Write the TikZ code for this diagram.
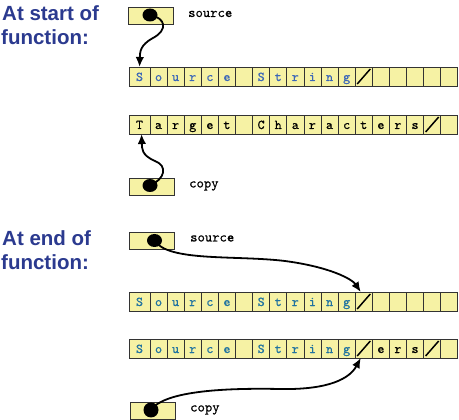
\documentclass[tikz,border=0pt]{standalone}
\usepackage{fontspec}
\setmainfont{Liberation Sans}
\newfontfamily\courfont[FakeBold=0.5]{lmmono10-regular.otf}
\usetikzlibrary{arrows.meta,shapes.geometric}
\definecolor{cellfill}{HTML}{F6F2A4}
\definecolor{cellline}{HTML}{333333}
\definecolor{headblue}{HTML}{2B3A8F}
\definecolor{srcblue}{HTML}{3A66B8}
\definecolor{srcteal}{HTML}{1F72A0}
\tikzset{
  cellbox/.style={draw=cellline, fill=cellfill, line width=0.8pt, inner sep=0pt, outer sep=0pt,
    minimum height=19pt, text height=9pt, text depth=0pt, font=\courfont\fontsize{13.5}{13.5}\selectfont},
  ptrbox/.style={draw=cellline, fill=cellfill, line width=0.8pt, inner sep=0pt, outer sep=0pt,
    minimum width=45pt, minimum height=17pt},
  ptrdot/.style={ellipse, fill=black, inner sep=0pt, minimum width=15pt, minimum height=13pt},
  ptrlabel/.style={anchor=base west, inner sep=0pt, font=\courfont\fontsize{14}{14}\selectfont},
  heading/.style={anchor=base west, inner sep=0pt, text=headblue, font=\bfseries\fontsize{20.5}{20.5}\selectfont},
  ptrarrow/.style={line width=1.8pt, -{Latex[length=10pt,width=8.5pt]}},
  slashline/.style={line width=1.5pt},
}
\newcommand\cellrow[4]{%
  \foreach \ch [count=\i from 0] in {#4} {%
    \ifnum\i=0
      \node[cellbox, minimum width=21pt, text=#3] (#1c\i) at (139.5,#2+9.5) {\ch};
    \else
      \pgfmathsetmacro\cx{150+(\i-1)*17.1+8.55}
      \node[cellbox, minimum width=17.1pt, text=#3] (#1c\i) at (\cx,#2+9.5) {\ch};
    \fi
  }%
}
\newcommand\slashcell[1]{%
  \draw[slashline] ([xshift=2pt,yshift=2pt]#1.south west) -- ([xshift=-2pt,yshift=-2pt]#1.north east);}
\begin{document}
\begin{tikzpicture}[x=1pt,y=-1pt]
\useasboundingbox (0,0) rectangle (459,420);
% headings
\node[heading] (h1a) at (2,20.5) {At start of};
\node[heading] (h1b) at (1,45) {function:};
\node[heading] (h2a) at (2,245.5) {At end of};
\node[heading] (h2b) at (1,270) {function:};
% arrays
\cellrow{ra}{67}{srcblue}{S,o,u,r,c,e,{},S,t,r,i,n,g,{},{},{},{},{},{}}
\cellrow{rb}{115}{black}{T,a,r,g,e,t,{},C,h,a,r,a,c,t,e,r,s,{},{}}
\cellrow{rc}{292}{srcteal}{S,o,u,r,c,e,{},S,t,r,i,n,g,{},{},{},{},{},{}}
\cellrow{rd}{339}{srcteal}{S,o,u,r,c,e,{},S,t,r,i,n,g,{},{\textcolor{black}{e}},{\textcolor{black}{r}},{\textcolor{black}{s}},{},{}}
\slashcell{rac13}
\slashcell{rbc17}
\slashcell{rcc13}
\slashcell{rdc13}
\slashcell{rdc17}
% pointer boxes
\node[ptrbox] (b1) at (151,16) {};
\node[ptrbox] (b2) at (151.5,186.5) {};
\node[ptrbox] (b3) at (151.5,240.5) {};
\node[ptrbox] (b4) at (153,410.5) {};
\node[ptrlabel] (l1) at (188,17) {source};
\node[ptrlabel] (l2) at (189,187.5) {copy};
\node[ptrlabel] (l3) at (190,241.5) {source};
\node[ptrlabel] (l4) at (190,411.5) {copy};
\node[ptrdot] (d1) at (150,15) {};
\node[ptrdot] (d2) at (150,185.5) {};
\node[ptrdot] (d3) at (154.5,240.5) {};
\node[ptrdot, minimum height=15pt] (d4) at (151,410) {};
\coordinate (t3) at ([xshift=-3pt]rcc13.north);
\coordinate (t4) at ([xshift=-3pt]rdc13.south);
% connectors
\draw[ptrarrow] (d1.center) .. controls (166,18) and (168,30) .. (153,38)
  .. controls (140,45) and (140,52) .. (rac0.north);
\draw[ptrarrow] (d2.center) .. controls (165,179) and (168,166) .. (155,161)
  .. controls (141,155) and (142,148) .. ([xshift=2pt]rbc0.south);
\draw[ptrarrow] (d3.center) .. controls (168,262) and (235,255) .. (285,261)
  .. controls (330,267) and (352,279) .. (t3);
\draw[ptrarrow] (d4.center) .. controls (165,390) and (230,388) .. (280,389)
  .. controls (330,390) and (350,378) .. (t4);
\end{tikzpicture}
\end{document}
